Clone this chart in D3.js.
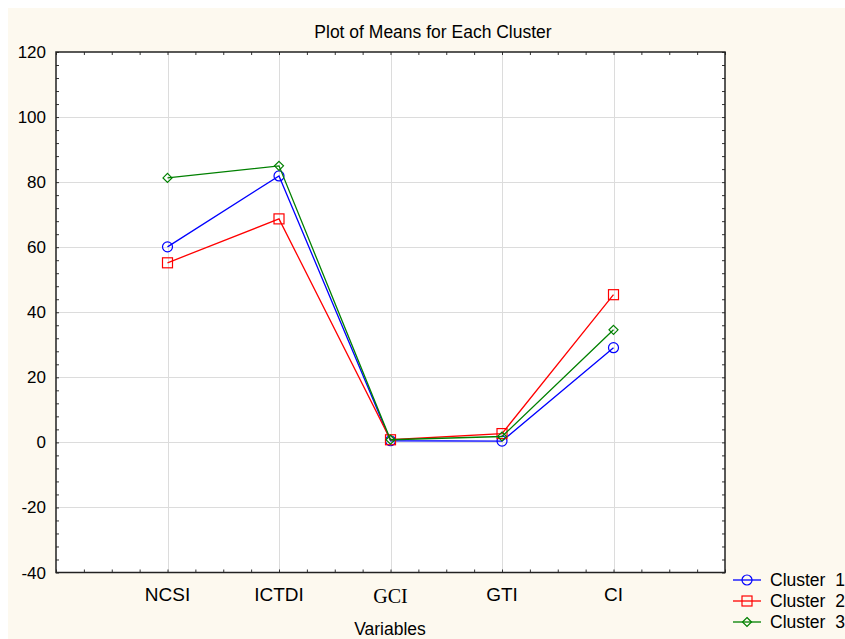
<!DOCTYPE html>
<html>
<head>
<meta charset="utf-8">
<script src="https://cdn.jsdelivr.net/npm/d3@7"></script>
<style>
  body { margin: 0; background: #ffffff; }
  svg text { font-family: "Liberation Sans", Arial, sans-serif; fill: #000; }
</style>
</head>
<body>
<div id="chart"></div>
<script>
var variables = ["NCSI", "ICTDI", "GCI", "GTI", "CI"];
var cluster1 = [60.1, 81.9, 0.5, 0.4, 29.1];
var cluster2 = [55.2, 68.7, 0.8, 2.7, 45.4];
var cluster3 = [81.3, 85.0, 0.8, 1.8, 34.6];
var seriesNames = ["Cluster  1", "Cluster  2", "Cluster  3"];
var yTicks = [-40, -20, 0, 20, 40, 60, 80, 100, 120];

function init(){
    var w = 845, h = 639;
    var left = 56, right = 725, top = 52, bottom = 572.5;
    var colors = ["#0000ff", "#ff0000", "#008000"];
    var shapes = ["circle", "square", "diamond"];
    var series = [cluster1, cluster2, cluster3];

    var svg = d3.select("#chart").append("svg")
      .attr("width", w).attr("height", h);

    // cream background
    svg.append("rect").attr("x", 8).attr("y", 8)
      .attr("width", w - 8).attr("height", h - 8)
      .attr("fill", "#fdf9ef");

    var xScale = d3.scaleLinear().domain([0, 6]).range([left, right]);
    var yScale = d3.scaleLinear().domain([-40, 120]).range([bottom, top]);

    svg.append("rect").attr("x", left).attr("y", top)
      .attr("width", right - left).attr("height", bottom - top)
      .attr("fill", "#ffffff");

    // grid
    svg.selectAll(".hgrid").data(yTicks.slice(1, -1)).enter().append("line")
      .attr("x1", left).attr("x2", right)
      .attr("y1", function(d){ return Math.round(yScale(d)) + 0.5; })
      .attr("y2", function(d){ return Math.round(yScale(d)) + 0.5; })
      .attr("stroke", "#dcdcdc");
    svg.selectAll(".vgrid").data(d3.range(1, 6)).enter().append("line")
      .attr("y1", top).attr("y2", bottom)
      .attr("x1", function(d){ return Math.round(xScale(d)) + 0.5; })
      .attr("x2", function(d){ return Math.round(xScale(d)) + 0.5; })
      .attr("stroke", "#dcdcdc");

    // axes with inward ticks (major + minor)
    var xMinor = d3.range(0, 6.01, 0.25);
    var yMinor = d3.range(-40, 120.1, 4);
    svg.append("g").attr("transform", "translate(0," + bottom + ")")
      .call(d3.axisTop(xScale).tickValues(xMinor).tickSize(3).tickFormat(""));
    svg.append("g").attr("transform", "translate(0," + top + ")")
      .call(d3.axisBottom(xScale).tickValues(xMinor).tickSize(3).tickFormat(""));
    svg.append("g").attr("transform", "translate(" + left + ",0)")
      .call(d3.axisRight(yScale).tickValues(yMinor).tickSize(3).tickFormat(""));
    svg.append("g").attr("transform", "translate(" + right + ",0)")
      .call(d3.axisLeft(yScale).tickValues(yMinor).tickSize(3).tickFormat(""));
    svg.selectAll(".domain").remove();
    svg.selectAll(".tick line").attr("stroke", "#333");

    svg.append("rect").attr("x", left).attr("y", top)
      .attr("width", right - left).attr("height", bottom - top)
      .attr("fill", "none").attr("stroke", "#222").attr("stroke-width", 1.5);

    // y tick labels
    svg.selectAll(".ylab").data(yTicks).enter().append("text")
      .attr("x", 46).attr("y", function(d){ return yScale(d) + 6; })
      .attr("text-anchor", "end").style("font-size", "17px")
      .text(function(d){ return d; });

    // x labels
    svg.selectAll(".xlab").data(variables).enter().append("text")
      .attr("x", function(d, i){ return xScale(i + 1); })
      .attr("y", 601)
      .attr("text-anchor", "middle")
      .style("font-size", function(d){ return d === "GCI" ? "20px" : "19px"; })
      .style("font-family", function(d){ return d === "GCI" ? "'Liberation Serif', 'Times New Roman', serif" : null; })
      .attr("dy", function(d){ return d === "GCI" ? 2 : 0; })
      .text(function(d){ return d; });

    svg.append("text").attr("x", 390).attr("y", 635)
      .attr("text-anchor", "middle").style("font-size", "17.5px").text("Variables");
    svg.append("text").attr("x", 433).attr("y", 37.5)
      .attr("text-anchor", "middle").style("font-size", "17.5px").text("Plot of Means for Each Cluster");

    var line = d3.line()
      .x(function(d, i){ return xScale(i + 1); })
      .y(function(d){ return yScale(d); });

    function drawMarker(g, shape, color, cx, cy){
      if (shape === "circle") {
        g.append("circle").attr("cx", cx).attr("cy", cy).attr("r", 5)
          .attr("fill", "none").attr("stroke", color).attr("stroke-width", 1.2);
      } else if (shape === "square") {
        g.append("rect").attr("x", cx - 5).attr("y", cy - 5)
          .attr("width", 10).attr("height", 10)
          .attr("fill", "none").attr("stroke", color).attr("stroke-width", 1.2);
      } else {
        g.append("path")
          .attr("d", "M" + cx + "," + (cy - 4.5) + "L" + (cx + 4.5) + "," + cy + "L" + cx + "," + (cy + 4.5) + "L" + (cx - 4.5) + "," + cy + "Z")
          .attr("fill", "none").attr("stroke", color).attr("stroke-width", 1.2);
      }
    }

    series.forEach(function(vals, s){
      var g = svg.append("g");
      g.append("path").datum(vals).attr("d", line)
        .attr("fill", "none").attr("stroke", colors[s]).attr("stroke-width", 1.3);
      vals.forEach(function(v, i){
        drawMarker(g, shapes[s], colors[s], xScale(i + 1), yScale(v));
      });
    });

    // legend
    seriesNames.forEach(function(name, s){
      var y = 580 + s * 21;
      var g = svg.append("g");
      g.append("line").attr("x1", 733).attr("x2", 761).attr("y1", y).attr("y2", y)
        .attr("stroke", colors[s]).attr("stroke-width", 1.3);
      drawMarker(g, shapes[s], colors[s], 747, y);
      g.append("text").attr("x", 770).attr("y", y + 6)
        .style("font-size", "17.5px").style("white-space", "pre")
        .attr("xml:space", "preserve").text(name);
    });
}

window.onload = init;
</script>
</body>
</html>
